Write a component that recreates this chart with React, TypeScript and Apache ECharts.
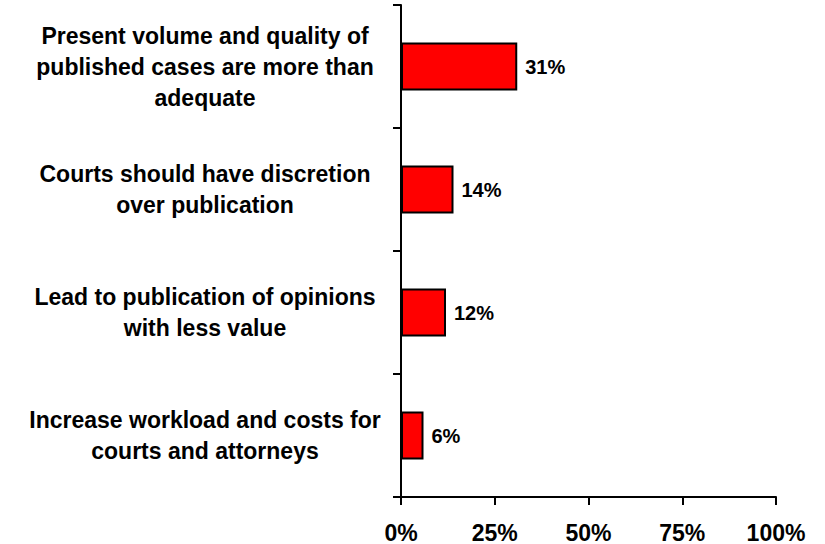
import React, { useEffect, useRef } from "react";
import * as echarts from "echarts";

const categories = [
  "Present volume and quality of\npublished cases are more than\nadequate",
  "Courts should have discretion\nover publication",
  "Lead to publication of opinions\nwith less value",
  "Increase workload and costs for\ncourts and attorneys",
];
const values = [31, 14, 12, 6];
const xTicks = [0, 25, 50, 75, 100];

export default function App() {
  const ref = useRef<HTMLDivElement>(null);
  useEffect(() => {
    if (!ref.current) return;
    const chart = echarts.init(ref.current, null, { renderer: "svg" });
    const font = "'Liberation Sans', Arial, sans-serif";
    chart.setOption({
      animation: false,
      backgroundColor: "#ffffff",
      grid: { left: 401, top: 5, right: 49, bottom: 47, containLabel: false },
      xAxis: {
        type: "value",
        min: xTicks[0],
        max: xTicks[xTicks.length - 1],
        interval: 25,
        splitLine: { show: false },
        axisLine: { show: true, lineStyle: { color: "#000", width: 2 } },
        axisTick: { show: true, length: 8, lineStyle: { color: "#000", width: 2 } },
        axisLabel: {
          formatter: (v: number) => v + "%",
          color: "#000",
          fontFamily: font,
          fontWeight: "bold",
          fontSize: 23,
          margin: 24,
        },
      },
      yAxis: {
        type: "category",
        inverse: true,
        data: categories,
        axisLine: { show: true, lineStyle: { color: "#000", width: 2 } },
        axisTick: { show: true, length: 8, lineStyle: { color: "#000", width: 2 } },
        axisLabel: {
          color: "#000",
          fontFamily: font,
          fontWeight: "bold",
          fontSize: 23,
          lineHeight: 31,
          align: "center",
          margin: 196,
        },
      },
      series: [
        {
          type: "bar",
          data: values,
          barWidth: "39%",
          itemStyle: { color: "#FF0000", borderColor: "#000", borderWidth: 2 },
          label: {
            show: true,
            position: "right",
            distance: 8,
            formatter: "{c}%",
            color: "#000",
            fontFamily: font,
            fontWeight: "bold",
            fontSize: 20,
          },
        },
      ],
    });
    return () => chart.dispose();
  }, []);
  return (
    <div
      ref={ref}
      style={{ position: "absolute", left: 0, top: 0, width: 825, height: 544 }}
    />
  );
}
